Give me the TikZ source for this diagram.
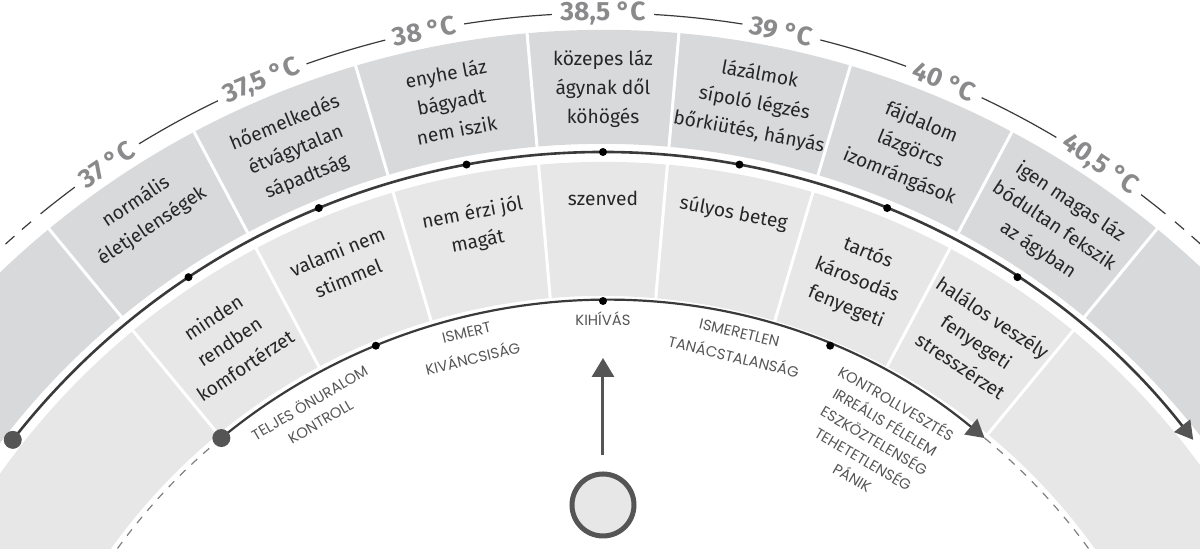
\documentclass[tikz,border=0pt]{standalone}
\usepackage{fontspec}
\setmainfont{Fira Sans}
\newfontfamily\capsfont{Poppins}
\usepackage{tikz}
\usetikzlibrary{arrows.meta}
\usepackage{xcolor}
\definecolor{outerband}{RGB}{216,217,219}
\definecolor{innerband}{RGB}{231,231,232}
\definecolor{darkline}{RGB}{58,58,58}
\definecolor{dotgrey}{RGB}{85,85,85}
\definecolor{tempgrey}{RGB}{138,138,140}
\definecolor{inkgrey}{RGB}{38,38,38}
\tikzset{%
    symptom/.style={%
        font=\fontsize{9.6pt}{14.5pt}\selectfont, text=inkgrey,
        align=center, inner sep=0pt, anchor=north},
    templabel/.style={%
        font=\fontsize{13.2pt}{14pt}\selectfont\bfseries, text=tempgrey,
        fill=white, inner xsep=4pt, inner ysep=0pt},
    feeling/.style={%
        font=\capsfont\fontsize{7.4pt}{#1}\selectfont, text=dotgrey,
        align=center, inner sep=0pt, anchor=north},
    feeling/.default=10.8pt,
    endarrow/.style={-{Triangle[length=9pt,width=10pt,color=dotgrey]}}
}

\begin{document}
\begin{tikzpicture}[x=0.5pt,y=0.5pt]
    \useasboundingbox (-603,352) rectangle (597,901);
    \clip (-603,352) rectangle (597,901);
    % bands
    \fill[outerband] (10:871) arc[start angle=10,end angle=170,radius=871] -- (170:757) arc[start angle=170,end angle=10,radius=757] -- cycle;
    \fill[innerband] (10:739) arc[start angle=10,end angle=170,radius=739] -- (170:605) arc[start angle=170,end angle=10,radius=605] -- cycle;
    \foreach \a in {-39.5,-28,-16.5,-5,5,16.5,28,39.5}
        \draw[white,line width=1.5pt] ({90-\a}:600) -- ({90-\a}:875);
    % temperature scale
    \draw[darkline,line width=0.6pt] (129.3:888) arc[start angle=129.3,end angle=50.7,radius=888];
    \draw[darkline,line width=0.6pt,dash pattern=on 6pt off 5pt] (130.1:888) arc[start angle=130.1,end angle=150,radius=888];
    \draw[darkline,line width=0.6pt,dash pattern=on 6pt off 5pt] (49.9:888) arc[start angle=49.9,end angle=30,radius=888];
    \foreach \a/\lbl [count=\i] in {-34/37,-22.6/{37,5},-11.6/38,0/{38,5},11.6/39,22.6/40,34/{40,5}}
        \node[templabel,rotate=-\a] (temp\i) at ({90-\a}:888) {\lbl~°C};
    % the two scales
    \draw[gray,line width=0.6pt,dash pattern=on 4pt off 4pt] (129.5:600) arc[start angle=129.5,end angle=165,radius=600];
    \draw[gray,line width=0.6pt,dash pattern=on 4pt off 4pt] (50.5:600) arc[start angle=50.5,end angle=15,radius=600];
    \draw[darkline,line width=1.1pt,endarrow] (129.5:600) arc[start angle=129.5,end angle=50.5,radius=600];
    \draw[darkline,line width=1.3pt,endarrow] (142:749) arc[start angle=142,end angle=38,radius=749];
    \foreach \a in {-22.25,0,22.25}
        \fill ({90-\a}:600) circle (2pt);
    \foreach \a in {-33.6,-22.3,-10.5,0,10.5,22.3,33.6}
        \fill ({90-\a}:749) circle (2pt);
    \fill[dotgrey] (129.5:600) circle (4.5pt);
    \fill[dotgrey] (142:749) circle (4.5pt);
    % body signs
    \foreach \a/\txt [count=\i] in {-33.75/{normális\\életjelenségek},
            -22.25/{hőemelkedés\\étvágytalan\\sápadtság},
            -10.75/{enyhe láz\\bágyadt\\nem iszik},
            0/{közepes láz\\ágynak dől\\köhögés},
            10.75/{lázálmok\\sípoló légzés\\bőrkiütés, hányás},
            22.25/{fájdalom\\lázgörcs\\izomrángások},
            33.75/{igen magas láz\\bódultan fekszik\\az ágyban}}
        \node[symptom,rotate=-\a] (body\i) at ({90-\a}:851) {\txt};
    % how it feels
    \foreach \a/\txt [count=\i] in {-33.75/{minden\\rendben\\komfortérzet},
            -22.25/{valami nem\\stimmel},
            -10.75/{nem érzi jól\\magát},
            0/{szenved},
            10.75/{súlyos beteg},
            22.25/{tartós\\károsodás\\fenyegeti},
            33.75/{halálos veszély\\fenyegeti\\stresszérzet}}
        \node[symptom,rotate=-\a] (mind\i) at ({90-\a}:710) {\txt};
    \node[feeling,rotate=30.5] (control) at (120.5:586) {TELJES ÖNURALOM\\KONTROLL};
    \node[feeling=13.5pt,rotate=13.5] (known) at (103.5:590) {ISMERT\\KIVÁNCSISÁG};
    \node[feeling] (challenge) at (90:590) {KIHÍVÁS};
    \node[feeling=12.5pt,rotate=-13.5] (unknown) at (76.5:590) {ISMERETLEN\\TANÁCSTALANSÁG};
    \node[feeling,rotate=-30.5] (panic) at (59.5:586) {KONTROLLVESZTÉS\\IRREÁLIS FÉLELEM\\ESZKÖZTELENSÉG\\TEHETETLENSÉG\\PÁNIK};
    % the person
    \node[circle,draw=dotgrey,fill=innerband,line width=2.5pt,minimum size=31pt,inner sep=0pt] (self) at (0,396) {};
    \coordinate (aim) at (0,543);
    \draw[dotgrey,line width=1.5pt,-{Triangle[length=9.5pt,width=11pt]}] ([yshift=8pt]self.north) -- (aim);
\end{tikzpicture}
\end{document}
